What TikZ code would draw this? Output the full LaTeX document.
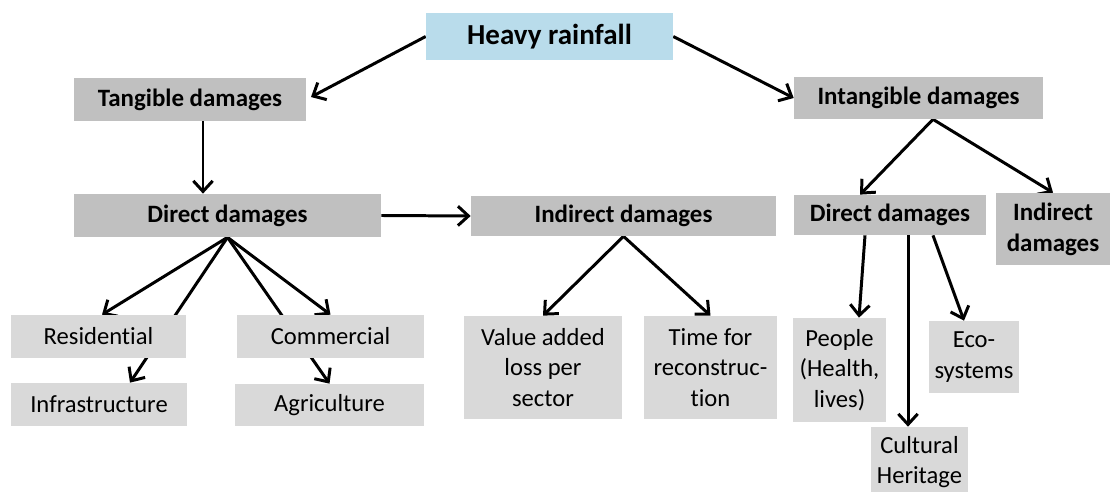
\documentclass[tikz,border=0pt]{standalone}
\usepackage{fontspec}
\setmainfont{Carlito}[Ligatures=NoCommon]
\usetikzlibrary{arrows.meta,backgrounds}

\definecolor{rainblue}{HTML}{B9DCEB}
\definecolor{darkbox}{HTML}{C0C0C0}
\definecolor{lightbox}{HTML}{D9D9D9}

\begin{document}
\begin{tikzpicture}[x=0.02cm,y=-0.02cm,
        every node/.style={inner sep=0pt,align=center,font=\fontsize{14}{17.5}\selectfont},
        main/.style={fill=darkbox,font=\fontsize{14.2}{17.5}\selectfont\bfseries},
        leaf/.style={fill=lightbox},
        link/.style={line width=1.7pt,-{Straight Barb[length=6pt,width=11pt]}}]
                \useasboundingbox (0,0) rectangle (1112,492);
                % top level
                \node[fill=rainblue,font=\fontsize{16.5}{19}\selectfont\bfseries,minimum width=4.94cm,minimum height=0.94cm] (H) at (549.5,36.5) {Heavy rainfall};
                \node[main,minimum width=4.64cm,minimum height=0.86cm] (T) at (190,99.5) {Tangible damages};
                \node[main,minimum width=4.98cm,minimum height=0.84cm] (I) at (918.5,98) {Intangible damages};
                % second level
                \begin{scope}[every node/.append style={main}]
                    \node[minimum width=6.14cm,minimum height=0.86cm] (TD) at (227.5,215.5) {Direct damages};
                    \node[minimum width=6.10cm,minimum height=0.80cm] (TI) at (623.5,216) {Indirect damages};
                    \node[minimum width=3.84cm,minimum height=0.80cm] (ID) at (890,215) {Direct damages};
                    \node[minimum width=2.28cm,minimum height=1.44cm] (II) at (1053,229) {Indirect\\damages};
                \end{scope}
                % leaves
                \begin{scope}[every node/.append style={leaf}]
                    \node[minimum width=3.50cm,minimum height=0.86cm] (R) at (98.5,336.5) {Residential};
                    \node[minimum width=3.52cm,minimum height=0.86cm] (F) at (99,404.5) {Infrastructure};
                    \node[minimum width=3.74cm,minimum height=0.86cm] (C) at (330.5,336.5) {Commercial};
                    \node[minimum width=3.78cm,minimum height=0.84cm] (A) at (329.5,405) {Agriculture};
                    \node[minimum width=3.16cm,minimum height=2.06cm] (V) at (543,367.5) {Value added\\loss per\\sector};
                    \node[minimum width=2.66cm,minimum height=2.06cm] (Z) at (710.5,367.5) {Time for\\reconstruc-\\tion};
                    \node[minimum width=1.86cm,minimum height=2.08cm] (P) at (839.5,370) {People\\(Health,\\lives)};
                    \node[minimum width=1.80cm,minimum height=1.44cm] (E) at (974,357) {Eco-\\systems};
                    \node[minimum width=1.94cm,minimum height=1.40cm] (K) at (919.5,462) {Cultural\\Heritage};
                \end{scope}
                % connectors behind the boxes
                \begin{scope}[on background layer,every path/.style={link}]
                    \draw[shorten >=3pt] (H.west) -- (T.east);
                    \draw (H.east) -- (I.west);
                    \draw ([xshift=0.26cm]T.south) -- ([xshift=0.26cm]T.south |- TD.north);
                    \draw (TD.east) -- (TI.west);
                    \draw (TD.south) -- ([xshift=0.07cm]R.north);
                    \draw (TD.south) -- ([xshift=0.62cm]F.north);
                    \draw (TD.south) -- (C.north);
                    \draw (TD.south) -- (A.north);
                    \draw (TI.south) -- (V.north);
                    \draw (TI.south) -- (Z.north);
                    \draw ([xshift=0.29cm]I.south) -- ([xshift=-0.60cm]ID.north);
                    \draw ([xshift=0.29cm]I.south) -- (II.north);
                    \draw ([xshift=-0.50cm]ID.south) -- ([xshift=0.39cm]P.north);
                    \draw ([xshift=0.36cm]ID.south) -- ([xshift=0.36cm]ID.south |- K.north);
                    \draw ([xshift=0.86cm]ID.south) -- ([xshift=-0.20cm]E.north);
                \end{scope}
            \end{tikzpicture}
\end{document}
